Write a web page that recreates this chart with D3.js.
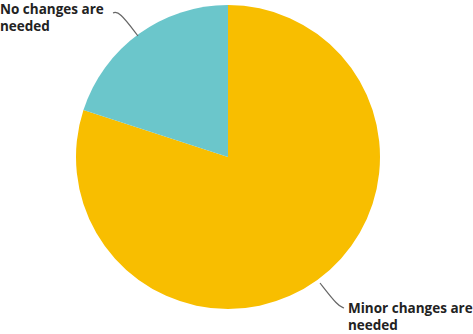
<!DOCTYPE html>
<html>
<head>
<meta charset="utf-8">
<script src="https://cdn.jsdelivr.net/npm/d3@7/dist/d3.min.js"></script>
<style>
  html, body { margin: 0; padding: 0; background: #fff; }
  svg { display: block; }
  text { font-family: "Open Sans", Lato, sans-serif; font-weight: 700; fill: #222; }
</style>
</head>
<body>
<svg id="chart" width="473" height="334"></svg>
<script>
// Survey answers (share of respondents, %)
const categories = ["Minor changes are needed", "No changes are needed"];
const values = [80, 20];
const colors = ["#F8BE00", "#6BC6CB"];
const labelLines = [["Minor changes are", "needed"], ["No changes are", "needed"]];

const svg = d3.select("#chart");
const cx = 228, cy = 157, r = 152;

const pie = d3.pie().sort(null).value(d => d.value);
const arc = d3.arc().innerRadius(0).outerRadius(r);
const data = categories.map((c, i) => ({ name: c, value: values[i], color: colors[i], lines: labelLines[i] }));
const arcs = pie(data);

const g = svg.append("g").attr("transform", `translate(${cx},${cy})`);
g.selectAll("path")
  .data(arcs)
  .join("path")
  .attr("d", arc)
  .attr("fill", d => d.data.color);

// Leader lines and labels
const labelSpec = [
  { x: 348, y: 313, line: [[320, 283], [338, 306], [344, 308]] },
  { x: 0, y: 14, line: [[113, 13], [119, 11], [138, 36]] }
];

arcs.forEach((a, i) => {
  const s = labelSpec[i];
  svg.append("path")
    .attr("d", d3.line().curve(d3.curveBasis)(s.line))
    .attr("fill", "none")
    .attr("stroke", "#666")
    .attr("stroke-width", 1.2);
  const t = svg.append("text")
    .attr("x", s.x)
    .attr("y", s.y)
    .style("font-size", "13.5px");
  a.data.lines.forEach((ln, j) => {
    t.append("tspan").attr("x", s.x).attr("dy", j === 0 ? 0 : 17).text(ln);
  });
});
</script>
</body>
</html>
